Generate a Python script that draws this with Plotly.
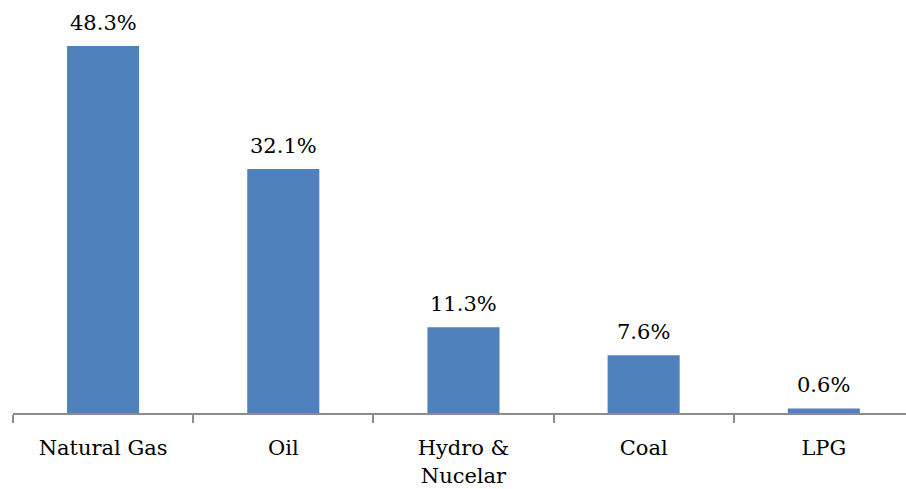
import plotly.graph_objects as go

categories = ["Natural Gas", "Oil", "Hydro &<br>Nucelar", "Coal", "LPG"]
values = [48.3, 32.1, 11.3, 7.6, 0.6]
labels = ["48.3%", "32.1%", "11.3%", "7.6%", "0.6%"]

FONT = "DejaVu Serif"

fig = go.Figure(go.Bar(
    x=categories, y=values,
    marker=dict(color="#4F81BD", line=dict(width=0)),
    width=0.4,
))
for c, v, t in zip(categories, values, labels):
    fig.add_annotation(x=c, y=v, text=t, showarrow=False, yanchor="bottom",
                       yshift=9, font=dict(family=FONT, size=21, color="black"))
fig.update_layout(
    width=906, height=489,
    margin=dict(l=13, r=0, t=0, b=76),
    plot_bgcolor="white", paper_bgcolor="white",
    showlegend=False,
    font=dict(family=FONT, size=21, color="black"),
)
fig.update_xaxes(
    range=[-0.5, 4.456], showline=True, linecolor="#8c8c8c", linewidth=2,
    ticks="outside", tickson="boundaries", ticklen=8, tickcolor="#8c8c8c", tickwidth=2,
    showgrid=False, tickfont=dict(family=FONT, size=21, color="black"),
    ticklabelstandoff=15,
)
fig.update_yaxes(range=[0, 54.35], visible=False, showgrid=False, zeroline=False)
fig.write_html("out.html")
